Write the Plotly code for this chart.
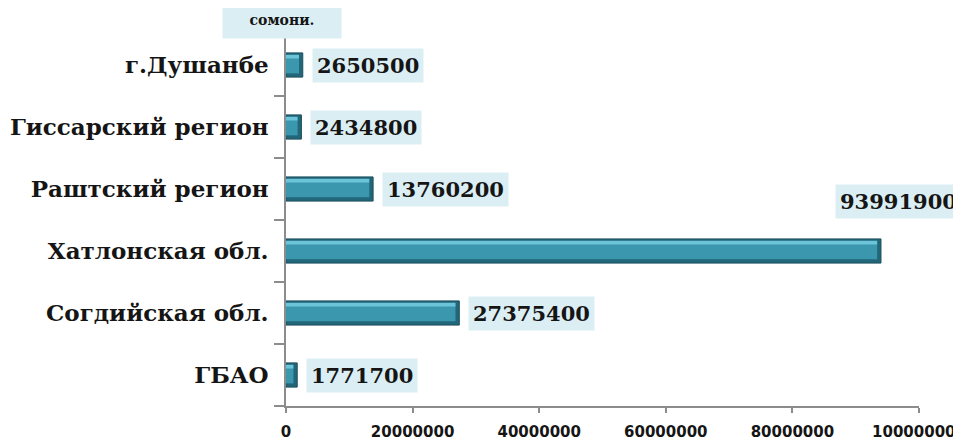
import plotly.graph_objects as go

# bottom-to-top order (plotly puts the first category at the bottom)
regions = ["ГБАО", "Согдийская обл.", "Хатлонская обл.",
           "Раштский регион", "Гиссарский регион", "г.Душанбе"]
amounts = [1771700, 27375400, 93991900, 13760200, 2434800, 2650500]

x_tick_vals = [0, 20000000, 40000000, 60000000, 80000000, 100000000]
x_tick_text = ["0", "20000000", "40000000", "60000000", "80000000", "100000000"]
unit_label = "сомони."

SERIF = "DejaVu Serif"
SANS = "DejaVu Sans"
AXIS_GREY = "#8c8c8c"
LABEL_BG = "#dbeef4"
BAR_W = 0.39
CAP = 600000  # width of the dark end cap, in axis units

fig = go.Figure()

# dark body + end cap
fig.add_trace(go.Bar(
    y=regions, x=amounts, orientation="h",
    width=BAR_W, offset=-BAR_W / 2,
    marker=dict(color="#22667a", line=dict(color="#1b4f5d", width=1)),
    hoverinfo="skip",
))
# main teal face
fig.add_trace(go.Bar(
    y=regions, x=[max(v - CAP, 0) for v in amounts], orientation="h",
    width=BAR_W - 0.13, offset=-BAR_W / 2 + 0.06,
    marker=dict(color="#3b97ae", line=dict(width=0)),
    hoverinfo="skip",
))
# light bevel on top
fig.add_trace(go.Bar(
    y=regions, x=[max(v - CAP, 0) for v in amounts], orientation="h",
    width=0.06, offset=BAR_W / 2 - 0.09,
    marker=dict(color="#6cc4d9", line=dict(width=0)),
    hoverinfo="skip",
))

top = max(amounts)
for name, v in zip(regions, amounts):
    if v == top:
        pos = dict(xanchor="center", yanchor="middle", xshift=18, yshift=50)
    else:
        pos = dict(xanchor="left", yanchor="middle", xshift=9, yshift=0)
    fig.add_annotation(
        x=v, y=name, text=f"{v}", showarrow=False,
        font=dict(family=SERIF, size=21, color="#151515", weight="bold"),
        bgcolor=LABEL_BG, borderpad=4, **pos,
    )

fig.add_annotation(
    xref="paper", yref="paper", x=-0.0065, y=1.0, yshift=14,
    xanchor="center", yanchor="middle",
    text=unit_label, showarrow=False,
    font=dict(family=SERIF, size=14, color="#151515", weight="bold"),
    bgcolor=LABEL_BG, width=112, height=30, borderpad=3,
)

# the page adds an 8px body margin, so the figure is sized/offset for that
fig.update_layout(
    width=953, height=433,
    barmode="overlay",
    showlegend=False,
    margin=dict(l=278, r=42, t=26, b=35, autoexpand=False),
    paper_bgcolor="white",
    plot_bgcolor="white",
    xaxis=dict(
        range=[0, 100000000], tickvals=x_tick_vals, ticktext=x_tick_text,
        showgrid=False, zeroline=False, automargin=False,
        showline=True, linecolor=AXIS_GREY, linewidth=1.5,
        ticks="outside", ticklen=5, tickcolor=AXIS_GREY, tickwidth=1.5,
        ticklabelstandoff=6, ticklabeloverflow="allow",
        tickfont=dict(family=SANS, size=15, color="#151515", weight="bold"),
    ),
    yaxis=dict(
        categoryorder="array", categoryarray=regions,
        showgrid=False, zeroline=False, automargin=False,
        showline=True, linecolor=AXIS_GREY, linewidth=1.5,
        ticks="outside", ticklen=10, tickcolor=AXIS_GREY, tickwidth=1.5,
        tickson="boundaries", ticklabelstandoff=11,
        tickfont=dict(family=SERIF, size=23, color="#151515", weight="bold"),
    ),
)

fig.write_html("out.html")
